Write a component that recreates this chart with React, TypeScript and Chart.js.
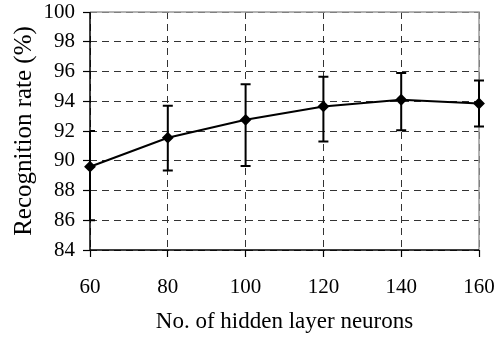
import React, { useEffect, useRef } from "react";
import { Chart, registerables } from "chart.js";

Chart.register(...registerables);

const neurons = [60, 80, 100, 120, 140, 160];
const meanRate = [89.6, 91.55, 92.75, 93.65, 94.1, 93.85];
const upperRate = [92.0, 93.7, 95.15, 95.65, 95.9, 95.4];
const lowerRate = [86.0, 89.35, 89.65, 91.3, 92.05, 92.3];
const xTitle = "No. of hidden layer neurons";
const yTitle = "Recognition rate (%)";

const FONT = "'Liberation Serif', 'Times New Roman', serif";

const frameAndErrorBars = {
  id: "frameAndErrorBars",
  beforeDatasetsDraw(chart: any) {
    const { ctx, chartArea } = chart;
    ctx.save();
    ctx.setLineDash([]);
    ctx.strokeStyle = "#9a9a9a";
    ctx.lineWidth = 1.5;
    ctx.beginPath();
    ctx.moveTo(chartArea.left, chartArea.top);
    ctx.lineTo(chartArea.right, chartArea.top);
    ctx.lineTo(chartArea.right, chartArea.bottom);
    ctx.stroke();
    ctx.strokeStyle = "#000";
    ctx.lineWidth = 1.5;
    ctx.beginPath();
    ctx.moveTo(chartArea.left, chartArea.top);
    ctx.lineTo(chartArea.left, chartArea.bottom);
    ctx.lineTo(chartArea.right, chartArea.bottom);
    ctx.stroke();
    ctx.restore();
  },
  afterDatasetsDraw(chart: any) {
    const { ctx, scales, chartArea } = chart;
    const xs = scales.x;
    const ys = scales.y;
    ctx.save();
    ctx.setLineDash([]);
    ctx.strokeStyle = "#000";
    ctx.lineWidth = 2;
    neurons.forEach((n, i) => {
      const x = xs.getPixelForValue(n);
      const yt = ys.getPixelForValue(upperRate[i]);
      const yb = ys.getPixelForValue(lowerRate[i]);
      const l = Math.max(chartArea.left, x - 5);
      const r = x + 5;
      ctx.beginPath();
      ctx.moveTo(x, yt);
      ctx.lineTo(x, yb);
      ctx.moveTo(l, yt);
      ctx.lineTo(r, yt);
      ctx.moveTo(l, yb);
      ctx.lineTo(r, yb);
      ctx.stroke();
    });
    ctx.restore();
  },
};

export default function App() {
  const ref = useRef<HTMLCanvasElement | null>(null);
  useEffect(() => {
    if (!ref.current) return;
    const chart = new Chart(ref.current, {
      type: "line",
      data: {
        datasets: [
          {
            data: neurons.map((n, i) => ({ x: n, y: meanRate[i] })),
            borderColor: "#000",
            backgroundColor: "#000",
            borderWidth: 2,
            pointStyle: "rectRot",
            pointRadius: 4.5,
            pointBackgroundColor: "#000",
            pointBorderColor: "#000",
            tension: 0,
            clip: false,
          },
        ],
      },
      options: {
        animation: false,
        responsive: false,
        maintainAspectRatio: false,
        layout: { padding: { top: 12, right: 18, left: 0, bottom: 0 } },
        plugins: { legend: { display: false }, tooltip: { enabled: false } },
        scales: {
          x: {
            type: "linear",
            min: 60,
            max: 160,
            afterFit: (s: any) => {
              s.height = 88;
              s.paddingLeft = 0;
              s.paddingRight = 0;
            },
            ticks: {
              stepSize: 20,
              color: "#000",
              padding: 18,
              font: { family: FONT, size: 21 },
            },
            grid: {
              color: "#333",
              lineWidth: 1,
              tickLength: 7,
              tickColor: "#000",
              tickWidth: 1.2,
              tickBorderDash: [],
            },
            border: { display: false, dash: [7, 5] },
            title: {
              display: true,
              text: xTitle,
              color: "#000",
              font: { family: FONT, size: 23 },
              padding: { top: 0, bottom: 2 },
            },
          },
          y: {
            min: 84,
            max: 100,
            afterFit: (s: any) => {
              s.width = 90;
              s.paddingTop = 0;
              s.paddingBottom = 0;
            },
            ticks: {
              stepSize: 2,
              color: "#000",
              padding: 8,
              font: { family: FONT, size: 21 },
            },
            grid: {
              color: "#333",
              lineWidth: 1,
              tickLength: 7,
              tickColor: "#000",
              tickWidth: 1.2,
              tickBorderDash: [],
            },
            border: { display: false, dash: [7, 5] },
            title: {
              display: true,
              text: yTitle,
              color: "#000",
              font: { family: FONT, size: 25 },
              padding: { top: 9, bottom: 0 },
            },
          },
        },
      } as any,
      plugins: [frameAndErrorBars],
    });
    return () => chart.destroy();
  }, []);
  return (
    <div style={{ position: "absolute", left: 0, top: 0, width: 497, height: 338, background: "#fff" }}>
      <canvas ref={ref} width={497} height={338} style={{ display: "block" }} />
    </div>
  );
}
